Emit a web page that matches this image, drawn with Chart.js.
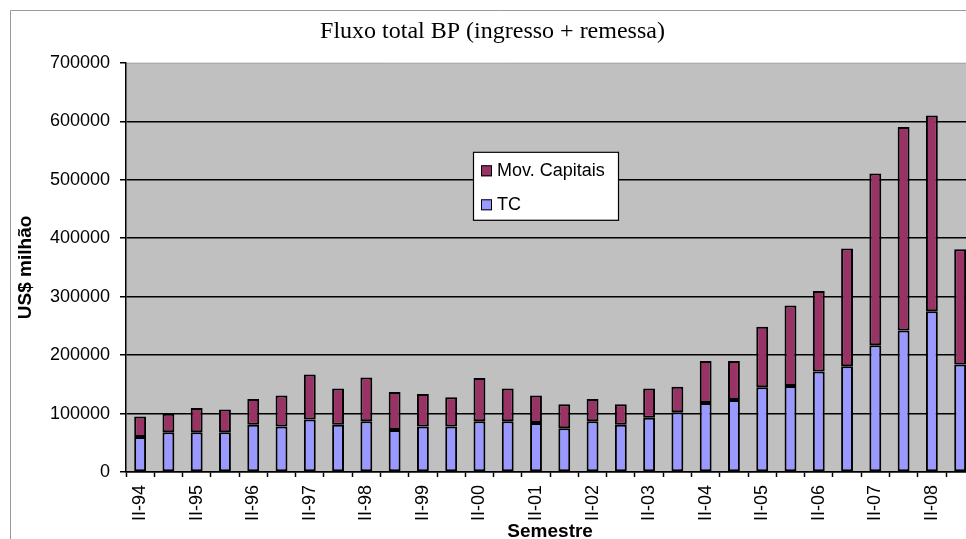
<!DOCTYPE html>
<html>
<head>
<meta charset="utf-8">
<script src="https://cdn.jsdelivr.net/npm/chart.js@4.4.1/dist/chart.umd.min.js"></script>
<style>
  html, body { margin: 0; padding: 0; background: #fff; overflow: hidden; }
  #wrap { position: absolute; left: 0; top: 0; width: 990px; height: 560px; }
</style>
</head>
<body>
<div id="wrap"><canvas id="c" width="990" height="560"></canvas></div>
<script>
const semesters = ['II-94','I-95','II-95','I-96','II-96','I-97','II-97','I-98','II-98','I-99',
  'II-99','I-00','II-00','I-01','II-01','I-02','II-02','I-03','II-03','I-04',
  'II-04','I-05','II-05','I-06','II-06','I-07','II-07','I-08','II-08','I-09'];

const tcValues = [60000, 68000, 68000, 68000, 81000, 78000, 90000, 81000, 87000, 72000,
  78000, 78000, 87000, 87000, 84000, 75000, 87000, 81000, 93000, 102000,
  118000, 123000, 145000, 147000, 172000, 181000, 217000, 242000, 275000, 184000];

const movCapitaisValues = [35000, 31500, 41500, 39000, 44000, 53000, 77000, 62000, 74500, 65000,
  55500, 50000, 74000, 56000, 47000, 41000, 38000, 35000, 50000, 44000,
  72000, 67000, 103500, 138000, 137500, 201500, 293500, 348000, 335000, 197000];

const yTickMax = 700000;
const yTickStep = 100000;

const chartTitle = 'Fluxo total BP (ingresso + remessa)';
const yTitle = 'US$ milhão';
const xTitle = 'Semestre';

const bgPlugin = {
  id: 'bgPlugin',
  beforeDraw(chart) {
    const { ctx, chartArea: a } = chart;
    ctx.save();
    ctx.fillStyle = '#ffffff';
    ctx.fillRect(0, 0, chart.width, chart.height);
    ctx.strokeStyle = '#9a9a9a';
    ctx.lineWidth = 1;
    ctx.beginPath();
    ctx.moveTo(10.5, chart.height);
    ctx.lineTo(10.5, 10.5);
    ctx.lineTo(chart.width, 10.5);
    ctx.stroke();
    ctx.fillStyle = '#c0c0c0';
    ctx.fillRect(a.left, a.top, a.right - a.left, a.bottom - a.top);
    ctx.strokeStyle = '#a8a8a8';
    ctx.beginPath();
    ctx.moveTo(a.left, a.top + 0.5);
    ctx.lineTo(a.right, a.top + 0.5);
    ctx.stroke();
    ctx.restore();
  }
};

const legendPlugin = {
  id: 'legendPlugin',
  afterDraw(chart) {
    const { ctx, chartArea: a } = chart;
    const x = a.left + 347, y = a.top + 89, w = 145, h = 68;
    ctx.save();
    ctx.fillStyle = '#ffffff';
    ctx.fillRect(x, y, w, h);
    ctx.strokeStyle = '#000';
    ctx.lineWidth = 1.2;
    ctx.strokeRect(x + 0.5, y + 0.5, w, h);
    const ds = chart.data.datasets.slice().reverse();
    ctx.font = '18px "Liberation Sans", Arial, sans-serif';
    ctx.textBaseline = 'middle';
    ds.forEach((d, i) => {
      const cy = y + 19 + i * 34;
      ctx.fillStyle = d.backgroundColor;
      ctx.fillRect(x + 8, cy - 5.5, 11, 11);
      ctx.strokeStyle = '#000';
      ctx.lineWidth = 1;
      ctx.strokeRect(x + 8.5, cy - 5, 10, 10);
      ctx.fillStyle = '#000';
      ctx.fillText(d.label, x + 24, cy);
    });
    ctx.restore();
  }
};

Chart.defaults.color = '#000';
Chart.defaults.font.family = '"Liberation Sans", Arial, sans-serif';

new Chart(document.getElementById('c'), {
  type: 'bar',
  data: {
    labels: semesters,
    datasets: [
      { label: 'TC', data: tcValues, backgroundColor: '#9999ff', borderColor: '#000',
        borderWidth: 2, borderSkipped: false, categoryPercentage: 1, barPercentage: 0.42 },
      { label: 'Mov. Capitais', data: movCapitaisValues, backgroundColor: '#993366', borderColor: '#000',
        borderWidth: 2, borderSkipped: false, categoryPercentage: 1, barPercentage: 0.42 }
    ]
  },
  options: {
    responsive: false,
    animation: false,
    devicePixelRatio: 1,
    layout: { padding: { left: 10, right: 15, top: 10, bottom: 0 } },
    plugins: {
      legend: { display: false },
      tooltip: { enabled: false },
      title: {
        display: true,
        text: chartTitle,
        font: { family: '"Liberation Serif", "Times New Roman", serif', size: 24, weight: 'normal' },
        color: '#000',
        padding: { top: 7, bottom: 17 }
      }
    },
    scales: {
      x: {
        stacked: true,
        offset: true,
        grid: { offset: true, drawOnChartArea: false, drawTicks: true, tickLength: 5, tickColor: '#000', tickWidth: 1.5 },
        border: { display: true, color: '#000', width: 1.5 },
        ticks: {
          autoSkip: false, maxRotation: 90, minRotation: 90, padding: 8,
          font: { size: 18 },
          callback: function (v, i) { const l = semesters[i]; return l.startsWith('II') ? l : ''; }
        },
        title: { display: true, text: xTitle, font: { size: 19, weight: 'bold' }, padding: { top: 0, bottom: 17 } },
        afterFit: function (s) { s.height = 88; }
      },
      y: {
        stacked: true,
        min: 0, max: yTickMax,
        grid: {
          color: (c) => (c.tick && c.tick.value === yTickMax) ? 'rgba(0,0,0,0)' : '#000',
          lineWidth: 1.5, tickLength: 6, tickColor: '#000', tickWidth: 1.5
        },
        border: { display: true, color: '#000', width: 1.5 },
        ticks: { stepSize: yTickStep, padding: 10, font: { size: 18 }, callback: (v) => String(v) },
        title: { display: true, text: yTitle, font: { size: 19, weight: 'bold' }, padding: { top: 4, bottom: 0 } },
        afterFit: function (s) { s.width = 116; }
      }
    }
  },
  plugins: [bgPlugin, legendPlugin]
});
</script>
</body>
</html>
